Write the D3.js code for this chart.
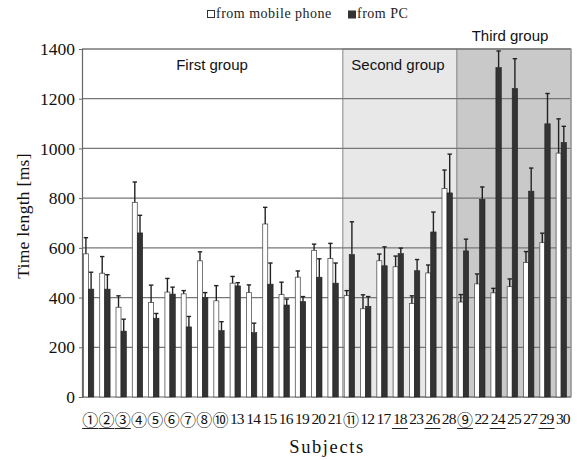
<!DOCTYPE html>
<html>
<head>
<meta charset="utf-8">
<script src="https://cdn.jsdelivr.net/npm/d3@7"></script>
<style>
  body { margin: 0; background: #fff; }
  svg { display: block; }
</style>
</head>
<body>
<svg id="chart" width="579" height="460"></svg>
<script>
// Subjects in display order, grouped
const subjects = ["①","②","③","④","⑤","⑥","⑦","⑧","⑩","13","14","15","16","19","20","21",
                  "⑪","12","17","18","23","26","28",
                  "⑨","22","24","25","27","29","30"];
const underlined = ["①","②","③","18","26","⑨","24","29"];

// Mean time length [ms] and upper error (SD)
const mobile    = [576,498,361,783,380,422,415,548,387,458,420,696,412,482,590,557,
                   408,355,548,524,376,499,839,
                   382,455,419,444,541,621,981];
const mobileErr = [65,67,46,82,70,55,13,36,61,27,31,67,50,25,25,61,
                   20,56,27,43,31,32,74,
                   30,40,18,31,44,38,138];
const pc        = [434,434,265,660,317,414,282,400,267,447,259,454,370,384,482,458,
                   573,365,528,577,508,664,821,
                   588,795,1325,1241,828,1099,1024];
const pcErr     = [68,58,48,71,19,28,42,20,36,13,38,85,24,20,74,81,
                   132,39,76,22,45,80,156,
                   47,50,67,120,93,122,65];

const groupNames  = ["First group","Second group","Third group"];
const groupFirst  = ["①","⑪","⑨"];
const groupLast   = ["21","28","30"];
const groupFills  = ["#ffffff","#e8e8e8","#c9c9c9"];

const yTicks = [0,200,400,600,800,1000,1200,1400];

const SERIF = "Liberation Serif";
const svg = d3.select("#chart");
const pLeft = 82, pRight = 571, pTop = 49, pBottom = 397;

const x = d3.scaleBand().domain(subjects).range([pLeft, pRight]).padding(0);
const y = d3.scaleLinear().domain([0, 1400]).range([pBottom, pTop]);
const bw = x.bandwidth();

// group backgrounds
groupNames.forEach((g, i) => {
  const x0 = x(groupFirst[i]), x1 = x(groupLast[i]) + bw;
  svg.append("rect")
    .attr("x", x0).attr("y", pTop).attr("width", x1 - x0).attr("height", pBottom - pTop)
    .attr("fill", groupFills[i])
    .attr("stroke", i === 0 ? "none" : "#9a9a9a").attr("stroke-width", 1.2);
});

// horizontal gridlines
svg.append("g").selectAll("line").data(yTicks.filter(t => t > 0))
  .join("line")
  .attr("x1", pLeft).attr("x2", pRight)
  .attr("y1", d => y(d)).attr("y2", d => y(d))
  .attr("stroke", "#777").attr("stroke-width", 1.3);

// right border
svg.append("line").attr("x1", pRight).attr("x2", pRight).attr("y1", pTop).attr("y2", pBottom)
  .attr("stroke", "#9a9a9a").attr("stroke-width", 1.2);

// y axis
const yAxis = d3.axisLeft(y).tickValues(yTicks).tickFormat(d3.format("d")).tickSize(3).tickPadding(4);
const ya = svg.append("g").attr("transform", `translate(${pLeft},0)`).call(yAxis)
  .attr("font-family", SERIF).attr("font-size", 17.5);
ya.select(".domain").attr("stroke", "#666").attr("stroke-width", 1.2);
ya.selectAll(".tick line").attr("stroke", "#666");
ya.selectAll("text").attr("fill", "#111");

// bottom axis line
svg.append("line").attr("x1", pLeft).attr("x2", pRight).attr("y1", pBottom).attr("y2", pBottom)
  .attr("stroke", "#666").attr("stroke-width", 1.2);

// bars
const wW = 5, wP = 5.4, off = 1.4;
const bars = svg.append("g");
subjects.forEach((s, i) => {
  const xm = x(s) + off;
  const xp = xm + wW;
  // white (mobile) bar
  bars.append("rect").attr("x", xm).attr("y", y(mobile[i]))
    .attr("width", wW).attr("height", y(0) - y(mobile[i]))
    .attr("fill", "#ffffff").attr("stroke", "#555").attr("stroke-width", 0.8);
  // dark (PC) bar
  bars.append("rect").attr("x", xp).attr("y", y(pc[i]))
    .attr("width", wP).attr("height", y(0) - y(pc[i]))
    .attr("fill", "#333333").attr("stroke", "#222").attr("stroke-width", 0.6);
  // error bars (upper only)
  [[xm + wW / 2, mobile[i], mobileErr[i]], [xp + wP / 2, pc[i], pcErr[i]]].forEach(([cx, v, e]) => {
    bars.append("line").attr("x1", cx).attr("x2", cx).attr("y1", y(v)).attr("y2", y(v + e))
      .attr("stroke", "#222").attr("stroke-width", 1.4);
    bars.append("line").attr("x1", cx - 2.2).attr("x2", cx + 2.2).attr("y1", y(v + e)).attr("y2", y(v + e))
      .attr("stroke", "#222").attr("stroke-width", 1.4);
  });
});

// x labels
const xl = svg.append("g");
subjects.forEach(s => {
  const circled = !/^\d+$/.test(s);
  const cx = x(s) + bw / 2;
  xl.append("text").attr("x", cx).attr("y", circled ? 425.5 : 424)
    .attr("text-anchor", "middle")
    .attr("font-family", circled ? "Noto Sans CJK JP" : SERIF)
    .attr("font-size", circled ? 16 : 15.5)
    .attr("letter-spacing", circled ? 0 : -0.8)
    .attr("fill", "#111").text(s);
  if (underlined.includes(s)) {
    xl.append("line").attr("x1", cx - 8).attr("x2", cx + 8).attr("y1", 428.5).attr("y2", 428.5)
      .attr("stroke", "#222").attr("stroke-width", 1);
  }
});

// group labels
const gLabelPos = [[212, 70], [398, 70], [510, 41]];
groupNames.forEach((g, i) => {
  svg.append("text").attr("x", gLabelPos[i][0]).attr("y", gLabelPos[i][1])
    .attr("text-anchor", "middle").attr("font-family", "Liberation Sans")
    .attr("font-size", 15).attr("fill", "#111").text(g);
});

// axis titles
svg.append("text").attr("transform", "translate(29,216) rotate(-90)")
  .attr("text-anchor", "middle").attr("font-family", SERIF)
  .attr("font-size", 17.5).attr("letter-spacing", 0.3).attr("fill", "#111").text("Time length [ms]");
svg.append("text").attr("x", 327).attr("y", 453)
  .attr("text-anchor", "middle").attr("font-family", SERIF)
  .attr("font-size", 18.5).attr("letter-spacing", 1.6).attr("fill", "#111").text("Subjects");

// legend
const lg = svg.append("g").attr("font-family", SERIF).attr("font-size", 14).attr("letter-spacing", 0.5).attr("fill", "#222");
lg.append("rect").attr("x", 207.5).attr("y", 10.5).attr("width", 7).attr("height", 7)
  .attr("fill", "#fff").attr("stroke", "#333").attr("stroke-width", 1);
lg.append("text").attr("x", 216).attr("y", 18).text("from mobile phone");
lg.append("rect").attr("x", 348).attr("y", 10.5).attr("width", 8).attr("height", 8)
  .attr("fill", "#333");
lg.append("text").attr("x", 357).attr("y", 18).text("from PC");
</script>
</body>
</html>
